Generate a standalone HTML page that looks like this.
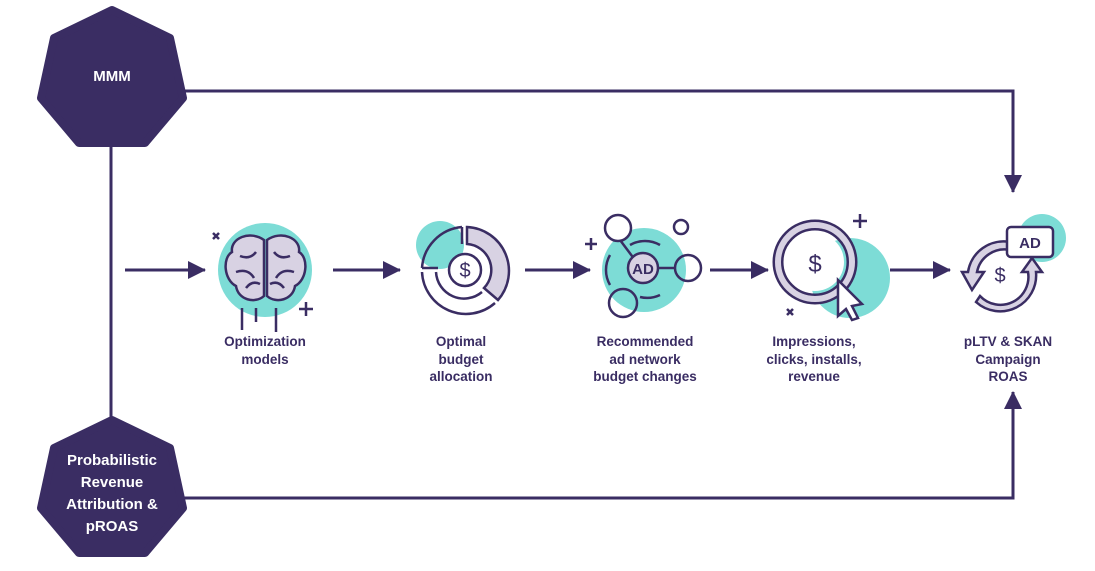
<!DOCTYPE html>
<html><head><style>
body{margin:0;width:1095px;height:571px;background:#fff;overflow:hidden;font-family:"Liberation Sans",sans-serif}
.l{position:absolute;text-align:center;font-size:13.5px;font-weight:bold;color:#3a2d63;line-height:17.5px;width:160px}
.h{position:absolute;color:#fff;font-weight:bold;text-align:center;font-size:15px;line-height:22px}
</style></head><body>
<svg width="1095" height="571" style="position:absolute;left:0;top:0">
<defs><marker id="a" markerWidth="10" markerHeight="10" refX="8" refY="5" orient="auto" markerUnits="userSpaceOnUse"><path d="M0,0 L10,5 L0,10z" fill="#3a2d63"/></marker>
<marker id="b" markerWidth="18" markerHeight="18" refX="17" refY="9" orient="auto" markerUnits="userSpaceOnUse"><path d="M0,0 L18,9 L0,18z" fill="#3a2d63"/></marker></defs>
<g stroke="#3a2d63" stroke-width="3" fill="none">
<path d="M111 140 V430"/>
<path d="M180 91 H1013 V192" marker-end="url(#b)"/>
<path d="M180 498 H1013 V392" marker-end="url(#b)"/>
<path d="M125 270 H205" marker-end="url(#b)"/>
<path d="M333 270 H400" marker-end="url(#b)"/>
<path d="M525 270 H590" marker-end="url(#b)"/>
<path d="M710 270 H768" marker-end="url(#b)"/>
<path d="M890 270 H950" marker-end="url(#b)"/>
</g>
<g fill="#3a2d63" stroke="#3a2d63" stroke-width="8" stroke-linejoin="round">
<polygon points="112,10 170,38 183,98 145,143 79,143 41,98 54,38"/>
<polygon points="112,420 170,448 183,508 145,553 79,553 41,508 54,448"/>
</g>
<!-- brain -->
<circle cx="265" cy="270" r="47" fill="#7ddcd6"/>
<g stroke="#3a2d63" stroke-width="2.5" fill="#d8d2e3">
<path d="M264 240 C250 230 230 238 232 252 C222 258 224 280 236 286 C238 300 255 304 264 296 Z"/>
<path d="M267 240 C281 230 301 238 299 252 C309 258 307 280 295 286 C293 300 276 304 267 296 Z"/>
</g>
<g stroke="#3a2d63" stroke-width="2.5" fill="none">
<path d="M240 256 q10 4 16 -4 M236 272 q12 -4 18 6 M246 288 q6 -8 14 -4 M290 256 q-10 4 -16 -4 M294 272 q-12 -4 -18 6 M284 288 q-6 -8 -14 -4"/>
<path d="M242 308 v22 M256 308 v14 M276 308 v24 M213 233 l6 6 M219 233 l-6 6 M306 302 v14 M299 309 h14" />
</g>
<!-- pie -->
<circle cx="440" cy="245" r="24" fill="#7ddcd6"/>
<g stroke="#3a2d63" stroke-width="2.5">
<path d="M467 227 A44 44 0 0 1 498 300 L484 288 A26 26 0 0 0 467 244 Z" fill="#d8d2e3"/>
<path d="M462 227 A44 44 0 0 0 422 268" fill="none"/>
<path d="M422 268 H438 M462 227 V244 M422 272 A44 44 0 0 0 495 303" fill="none"/>
<path d="M436 272 A28 28 0 0 0 482 292" fill="none"/>
<circle cx="465" cy="270" r="16" fill="#fff"/>
</g>
<text x="465" y="277" font-size="20" text-anchor="middle" fill="#3a2d63" font-family="Liberation Sans">$</text>
<!-- ad network -->
<circle cx="644" cy="270" r="42" fill="#7ddcd6"/>
<g stroke="#3a2d63" stroke-width="2.5" fill="none">
<circle cx="618" cy="228" r="13" fill="#fff"/><circle cx="681" cy="227" r="7"/>
<circle cx="688" cy="268" r="13"/><circle cx="623" cy="303" r="14"/>
<path d="M620 240 l15 20 M658 268 h17 M585 244 h12 M591 238 v12"/>
<path d="M630 245 a30 30 0 0 1 30 0 M610 255 a30 30 0 0 0 0 30 M660 295 a30 30 0 0 1 -20 2"/>
<circle cx="643" cy="268" r="15" fill="#d8d2e3"/>
</g>
<text x="643" y="274" font-size="15" text-anchor="middle" fill="#3a2d63" font-weight="bold">AD</text>
<!-- impressions -->
<circle cx="850" cy="278" r="40" fill="#7ddcd6"/>
<circle cx="815" cy="262" r="37" fill="none" stroke="#3a2d63" stroke-width="11"/>
<circle cx="815" cy="262" r="37" fill="none" stroke="#d8d2e3" stroke-width="6"/>
<circle cx="815" cy="262" r="29" fill="#fff"/>
<text x="815" y="272" font-size="24" text-anchor="middle" fill="#3a2d63">$</text>
<path d="M838 280 L862 304 L852 306 L858 318 L852 320 L846 309 L838 316 Z" fill="#fff" stroke="#3a2d63" stroke-width="2.5"/>
<g stroke="#3a2d63" stroke-width="2.5"><path d="M860 214 v14 M853 221 h14 M787 309 l6 6 M793 309 l-6 6"/></g>
<!-- pltv -->
<circle cx="1042" cy="238" r="24" fill="#7ddcd6"/>
<g stroke="#3a2d63" stroke-width="2.5" fill="#d8d2e3">
<path d="M1010 242 A36 36 0 0 0 968 272 L962 272 L972 290 L984 272 L977 272 A28 28 0 0 1 1010 250 Z"/>
<path d="M976 302 A36 36 0 0 0 1036 272 L1042 272 L1032 258 L1022 272 L1028 272 A28 28 0 0 1 980 296 Z"/>
<rect x="1007" y="227" width="46" height="30" rx="4" fill="#fff"/>
</g>
<text x="1030" y="248" font-size="15" text-anchor="middle" fill="#3a2d63" font-weight="bold">AD</text>
<text x="1000" y="282" font-size="20" text-anchor="middle" fill="#3a2d63">$</text>
</svg>
<div class="h" style="left:52px;top:66px;width:120px">MMM</div>
<div class="h" style="left:42px;top:450px;width:140px">Probabilistic Revenue Attribution &amp; pROAS</div>
<div class="l" style="left:185px;top:333px">Optimization<br>models</div>
<div class="l" style="left:381px;top:333px">Optimal<br>budget<br>allocation</div>
<div class="l" style="left:565px;top:333px">Recommended<br>ad network<br>budget changes</div>
<div class="l" style="left:734px;top:333px">Impressions,<br>clicks, installs,<br>revenue</div>
<div class="l" style="left:928px;top:333px">pLTV &amp; SKAN<br>Campaign<br>ROAS</div>
</body></html>
